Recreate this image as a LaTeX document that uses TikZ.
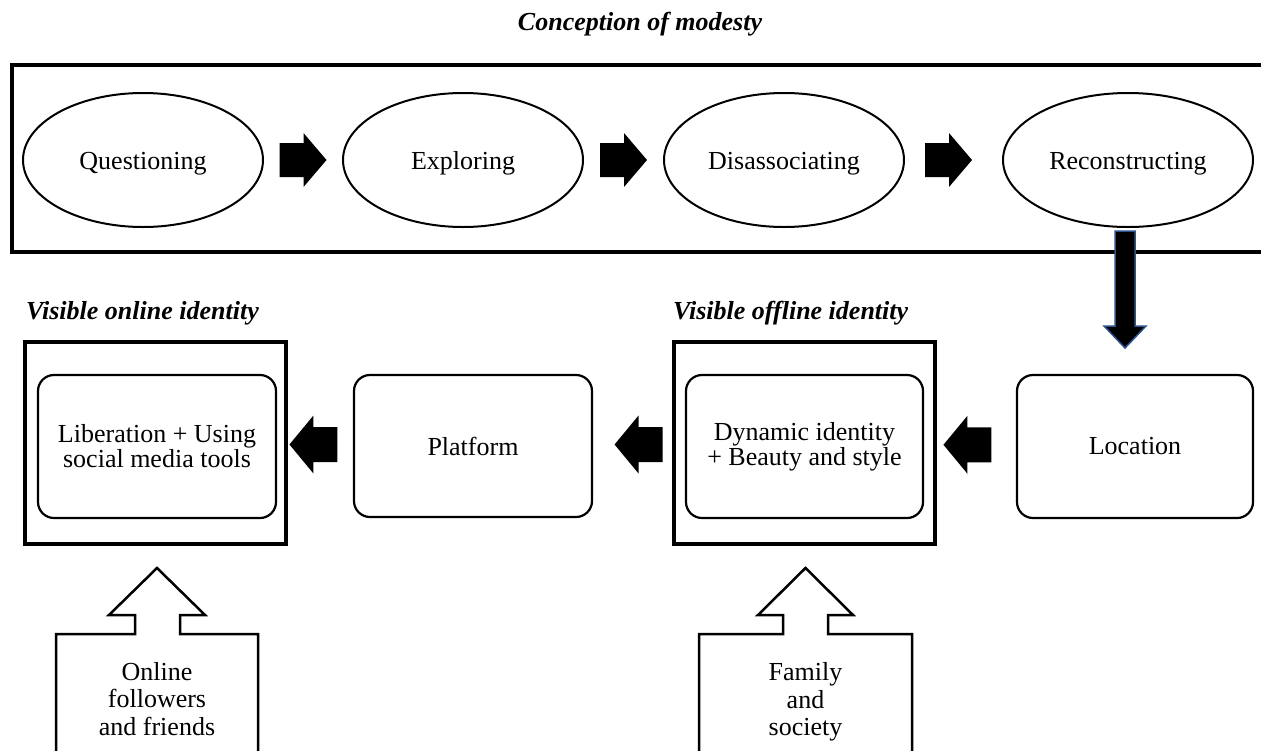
\documentclass[tikz,border=0pt]{standalone}
\usepackage{fontspec}
\setmainfont{Liberation Serif}
\usetikzlibrary{calc,shapes.geometric}
\definecolor{arrowedge}{HTML}{2F528F}
\begin{document}
\begin{tikzpicture}[x=1pt,y=-1pt,
  txt/.style={font=\fontsize{26}{25}\selectfont, align=center},
  heading/.style={font=\fontsize{26}{26}\selectfont\bfseries\itshape, inner sep=0pt},
  oval/.style={ellipse, draw, line width=2pt, minimum width=240, minimum height=134, txt, text height=18pt, text depth=0pt},
  card/.style={draw, rounded corners=16pt, line width=2.2pt, txt},
  frame/.style={draw, line width=4pt, minimum width=261, minimum height=202},
  rblock/.pic={\fill[black] (-23.5,-17) -- (0.5,-17) -- (0.5,-27) -- (23.5,0) -- (0.5,27) -- (0.5,17) -- (-23.5,17) -- cycle;},
  lblock/.pic={\fill[black] (24,-17.5) -- (0,-17.5) -- (0,-29) -- (-24,0) -- (0,29) -- (0,17.5) -- (24,17.5) -- cycle;},
  dblock/.pic={\filldraw[fill=black, draw=arrowedge, line width=1.5pt] (-10,0) -- (10,0) -- (10,95) -- (21,95) -- (0,117) -- (-21,95) -- (-10,95) -- cycle;}
]
\useasboundingbox (0,0) rectangle (1261,750);

% title and the frame around the four stages
\node[heading] (title) at (640,24) {Conception of modesty};
\draw[line width=4.5pt] (1270,65) -- (12,65) -- (12,252) -- (1270,252);

% stages of the conception of modesty
\node[oval] (q) at (143,160) {Questioning};
\node[oval] (e) at (463,160) {Exploring};
\node[oval] (d) at (784,160) {Disassociating};
\node[oval, minimum width=250] (r) at (1128,160) {Reconstructing};

\pic at ($(q.east)!0.5!(e.west)$) {rblock};
\pic at ($(e.east)!0.5!(d.west)$) {rblock};
\pic at ($(d.east)!0.5!(r.west)+(-5,0)$) {rblock};

% identity row
\node[heading, anchor=west] (lon) at (26,313) {Visible online identity};
\node[heading, anchor=west] (loff) at (673,313) {Visible offline identity};

\node[frame] (ono) at (155.5,443) {};
\node[frame] (off) at (804.5,443) {};

\node[card, minimum width=238, minimum height=143] (lib) at (157,446.5) {Liberation + Using\\social media tools};
\node[card, minimum width=238, minimum height=142] (pl) at (473,446) {Platform};
\node[card, minimum width=237, minimum height=143] (dyn) at (804.5,446.5) {Dynamic identity\\+ Beauty and style};
\node[card, minimum width=236, minimum height=143] (loc) at (1135,446.5) {Location};

\pic at ($(r.south)+(-3,3)$) {dblock};

\pic at ($(ono.east)!0.5!(pl.west)+(-7,0)$) {lblock};
\pic at ($(pl.east)!0.5!(off.west)+(6,0)$) {lblock};
\pic at ($(off.east)!0.5!(loc.west)+(-9,0)$) {lblock};

% influences pushing up into each identity
\draw[line width=2.5pt, fill=white] (56,760) -- (56,634) -- (135,634) -- (135,615) -- (109,615) -- (157,568) -- (205,615) -- (180,615) -- (180,634) -- (258,634) -- (258,760);
\draw[line width=2.5pt, fill=white] (699,760) -- (699,634) -- (783,634) -- (783,615) -- (758,615) -- (805.5,568) -- (853,615) -- (828,615) -- (828,634) -- (912,634) -- (912,760);

\node[txt, font=\fontsize{26}{27.5}\selectfont] (fol) at (157,699) {Online\\followers\\and friends};
\node[txt, font=\fontsize{26}{27.5}\selectfont] (fam) at (805.5,702) {Family\\and\\society};
\end{tikzpicture}
\end{document}
